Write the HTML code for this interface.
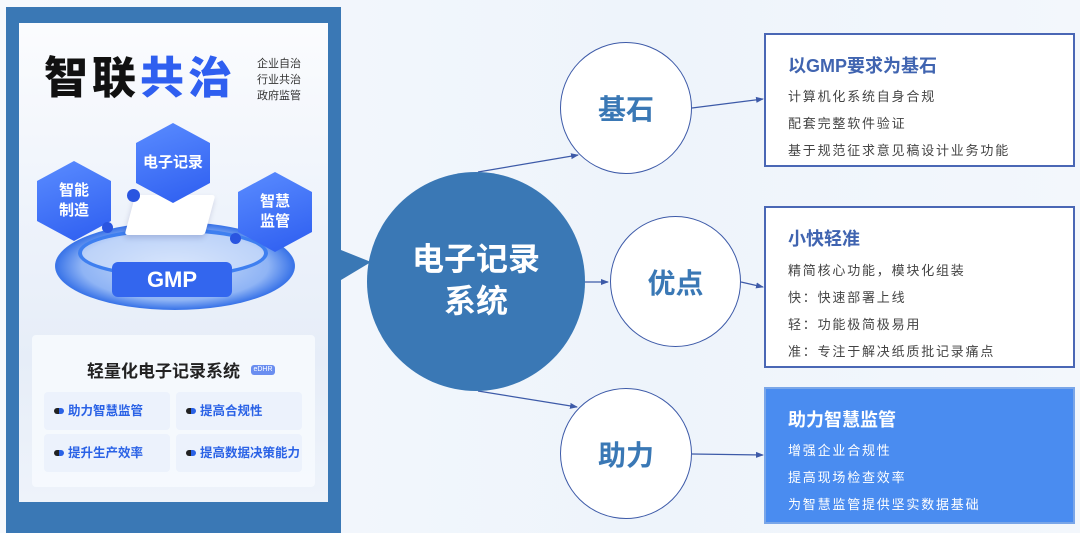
<!DOCTYPE html>
<html><head><meta charset="utf-8"><style>
*{margin:0;padding:0;box-sizing:border-box}
body{width:1080px;height:533px;overflow:hidden;position:relative;font-family:"Liberation Sans","Noto Sans CJK SC",sans-serif;background:linear-gradient(90deg,#f6f9fd 0%,#eef4fb 60%,#f3f7fc 100%)}
.a{position:absolute}
.box{position:absolute;border:2px solid #4a67b5;background:#fff}
.box h3{position:absolute;left:22px;font-size:18px;color:#4064b0;font-weight:bold}
.box p{position:absolute;left:22px;font-size:13px;color:#444;letter-spacing:1.8px;white-space:nowrap}
.circ{position:absolute;border:1.5px solid #3d5aa8;border-radius:50%;background:#fff;display:flex;align-items:center;justify-content:center;color:#3a78b5;font-size:28px;font-weight:bold}
.hex{position:absolute;width:74px;height:80px;clip-path:polygon(50% 0,100% 25%,100% 75%,50% 100%,0 75%,0 25%);background:linear-gradient(160deg,#5a8cff,#2d5df0);color:#fff;font-weight:bold;font-size:15px;display:flex;align-items:center;justify-content:center;text-align:center;line-height:20px}
.chip{position:absolute;width:126px;height:38px;background:rgba(235,241,252,.9);border-radius:4px;color:#2a62e6;font-size:12.5px;font-weight:bold;padding-left:24px;line-height:38px}
.chip:before{content:"";position:absolute;left:10px;top:16px;width:10px;height:6px;border-radius:3px;background:linear-gradient(90deg,#222 50%,#2a62e6 50%)}
</style></head><body>
<!-- left panel -->
<div class="a" style="left:6px;top:7px;width:335px;height:526px;background:#3a78b5"></div>
<div class="a" style="left:19px;top:23px;width:309px;height:479px;background:linear-gradient(180deg,#fbfcfe 0%,#eef3fb 40%,#e6edf8 70%,#eef3fa 100%)"></div>
<div class="a" style="left:341px;top:250px;width:0;height:0;border-top:12px solid transparent;border-bottom:18px solid transparent;border-left:30px solid #3a78b5"></div>
<div class="a" style="left:44px;top:54px;font-size:44px;font-weight:900;letter-spacing:4px;line-height:50px;white-space:nowrap"><span style="color:#111">智联</span><span style="color:#2f5ff0">共治</span></div>
<div class="a" style="left:257px;top:56px;font-size:11px;color:#333;line-height:16px">企业自治<br>行业共治<br>政府监管</div>
<!-- platform -->
<div class="a" style="left:55px;top:222px;width:240px;height:88px;border-radius:50%;background:radial-gradient(ellipse at center,#cfe0fb 0%,#8fb4f5 55%,#3a74e8 70%,#b9cff4 80%,rgba(220,230,248,0) 100%)"></div>
<div class="a" style="left:78px;top:228px;width:190px;height:50px;border-radius:50%;border:4px solid #3e7ff0;background:rgba(220,232,252,.6)"></div>
<div class="a" style="left:130px;top:195px;width:80px;height:40px;background:#fff;transform:skewX(-15deg);border-radius:3px;box-shadow:0 3px 6px rgba(0,0,80,.15)"></div>
<div class="a" style="left:112px;top:262px;width:120px;height:35px;border-radius:6px;background:#3366ee;color:#fff;font-size:22px;font-weight:bold;text-align:center;line-height:35px">GMP</div>
<div class="hex" style="left:136px;top:123px">电子记录</div>
<div class="hex" style="left:37px;top:161px">智能<br>制造</div>
<div class="hex" style="left:238px;top:172px">智慧<br>监管</div>
<div class="a" style="left:127px;top:189px;width:13px;height:13px;border-radius:50%;background:#2a55e0"></div>
<div class="a" style="left:102px;top:222px;width:11px;height:11px;border-radius:50%;background:#2a55e0"></div>
<div class="a" style="left:230px;top:233px;width:11px;height:11px;border-radius:50%;background:#2a55e0"></div>
<!-- bottom card -->
<div class="a" style="left:32px;top:335px;width:283px;height:152px;background:rgba(247,250,254,.85);border-radius:4px"></div>
<div class="a" style="left:87px;top:357px;font-size:17px;font-weight:bold;color:#222;white-space:nowrap">轻量化电子记录系统</div>
<div class="a" style="left:251px;top:365px;width:24px;height:10px;border-radius:3px;background:#6a8ef0;color:#fff;font-size:7px;line-height:10px;text-align:center">eDHR</div>
<div class="chip" style="left:44px;top:392px">助力智慧监管</div>
<div class="chip" style="left:176px;top:392px">提高合规性</div>
<div class="chip" style="left:44px;top:434px">提升生产效率</div>
<div class="chip" style="left:176px;top:434px">提高数据决策能力</div>
<!-- connectors -->
<svg class="a" style="left:0;top:0" width="1080" height="533">
<defs><marker id="m" markerWidth="8" markerHeight="8" refX="7" refY="4" orient="auto" markerUnits="userSpaceOnUse"><path d="M0,1 L8,4 L0,7z" fill="#3d5aa8"/></marker></defs>
<g stroke="#3d5aa8" stroke-width="1.3" fill="none" marker-end="url(#m)">
<line x1="478" y1="172" x2="578" y2="155"/>
<line x1="692" y1="108" x2="763" y2="99"/>
<line x1="585" y1="282" x2="608" y2="282"/>
<line x1="741" y1="282" x2="763" y2="287"/>
<line x1="478" y1="391" x2="577" y2="407"/>
<line x1="692" y1="454" x2="763" y2="455"/>
</g></svg>
<div class="a" style="left:367px;top:172px;width:218px;height:219px;border-radius:50%;background:#3a78b5;color:#fff;font-size:32px;font-weight:bold;text-align:center;line-height:42px;padding-top:66px">电子记录<br>系统</div>
<div class="circ" style="left:560px;top:42px;width:132px;height:132px">基石</div>
<div class="circ" style="left:610px;top:216px;width:131px;height:131px">优点</div>
<div class="circ" style="left:560px;top:388px;width:132px;height:131px">助力</div>
<div class="box" style="left:764px;top:33px;width:311px;height:134px">
<h3 style="top:17px">以GMP要求为基石</h3>
<p style="top:51px">计算机化系统自身合规</p>
<p style="top:78px">配套完整软件验证</p>
<p style="top:105px">基于规范征求意见稿设计业务功能</p></div>
<div class="box" style="left:764px;top:206px;width:311px;height:162px">
<h3 style="top:17px">小快轻准</h3>
<p style="top:52px">精简核心功能，模块化组装</p>
<p style="top:79px">快：快速部署上线</p>
<p style="top:106px">轻：功能极简极易用</p>
<p style="top:133px">准：专注于解决纸质批记录痛点</p></div>
<div class="box" style="left:764px;top:387px;width:311px;height:137px;background:#4a8cf0;border-color:#7aa6e8">
<h3 style="top:17px;color:#fff">助力智慧监管</h3>
<p style="top:51px;color:#fff">增强企业合规性</p>
<p style="top:78px;color:#fff">提高现场检查效率</p>
<p style="top:105px;color:#fff">为智慧监管提供坚实数据基础</p></div>
</body></html>
